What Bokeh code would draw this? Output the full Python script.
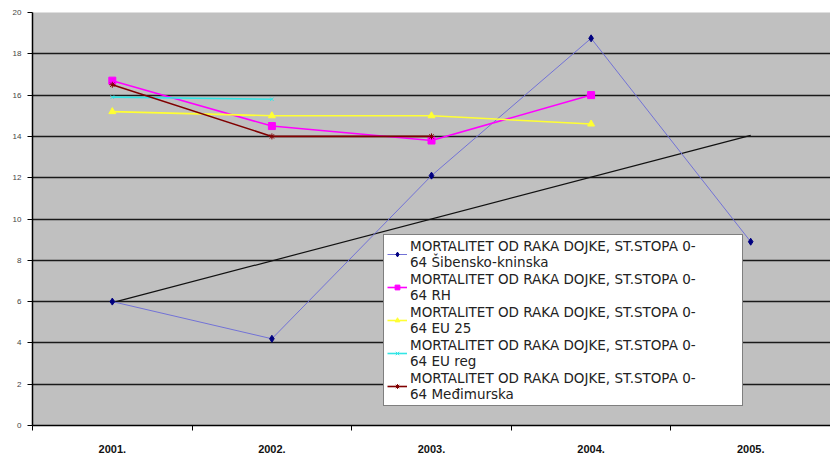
from bokeh.plotting import figure
from bokeh.models import Range1d, FixedTicker, Legend, LegendItem
from bokeh.embed import file_html
from bokeh.resources import INLINE

# ---- data ----
years = ["2001.", "2002.", "2003.", "2004.", "2005."]
sibenik = [6.0, 4.2, 12.1, 18.75, 8.9]
rh = [16.7, 14.5, 13.8, 16.0, None]
eu25 = [15.2, 15.0, 15.0, 14.6, None]
eureg = [15.9, 15.8, None, None, None]
medjimurje = [16.5, 14.0, 14.0, None, None]
trend_years = ["2001.", "2005."]
trend_vals = [5.95, 14.05]
y_ticks = [0, 2, 4, 6, 8, 10, 12, 14, 16, 18, 20]

label_head = "MORTALITET OD RAKA DOJKE, ST.STOPA 0-\n64 "
names = ["Šibensko-kninska", "RH", "EU 25", "EU reg", "Međimurska"]

pos = {y: i + 1 for i, y in enumerate(years)}

p = figure(width=830, height=465, output_backend="svg", toolbar_location=None,
           x_range=Range1d(0.5, len(years) + 0.5), y_range=Range1d(0, 20),
           min_border_left=32, min_border_right=0, min_border_top=12,
           min_border_bottom=40)
p.background_fill_color = "#c0c0c0"
p.border_fill_color = "white"
p.outline_line_color = None

p.xgrid.grid_line_color = None
p.ygrid.grid_line_color = "#1a1a1a"
p.ygrid.grid_line_width = 1.5
p.ygrid.ticker = FixedTicker(ticks=y_ticks)

xs_all = [pos[y] for y in years]
p.xaxis.ticker = FixedTicker(ticks=xs_all,
                             minor_ticks=[x - 0.5 for x in xs_all] + [xs_all[-1] + 0.5])
p.xaxis.major_label_overrides = {pos[y]: y for y in years}
p.xaxis.major_tick_out = 0
p.xaxis.major_tick_in = 0
p.xaxis.minor_tick_out = 5
p.xaxis.minor_tick_in = 0
p.xaxis.minor_tick_line_color = "black"
p.xaxis.major_label_standoff = 14
p.xaxis.major_label_text_font = "Liberation Sans"
p.xaxis.major_label_text_font_style = "bold"
p.xaxis.major_label_text_font_size = "11px"
p.xaxis.major_label_text_color = "#111111"
p.xaxis.axis_line_color = "black"
p.xaxis.axis_line_width = 1.5

p.yaxis.ticker = FixedTicker(ticks=y_ticks)
p.yaxis.major_tick_out = 5
p.yaxis.major_tick_in = 0
p.yaxis.minor_tick_line_color = None
p.yaxis.major_label_standoff = 6
p.yaxis.major_label_text_font = "Liberation Sans"
p.yaxis.major_label_text_font_size = "8px"
p.yaxis.major_label_text_color = "#444444"
p.yaxis.axis_line_color = "black"
p.yaxis.axis_line_width = 1.5


def pts(vals):
    xs, ys = [], []
    for y, v in zip(years, vals):
        if v is not None:
            xs.append(pos[y])
            ys.append(v)
    return xs, ys


# trendline
p.line([pos[y] for y in trend_years], trend_vals, line_color="#111111", line_width=1.2)

series = [
    (sibenik, "#7272d6", 1, "#000080", "diamond", 7),
    (rh, "#ff00ff", 1.6, "#ff00ff", "square", 7),
    (eu25, "#ffff33", 1.6, "#ffff33", "triangle", 7),
    (eureg, "#33e6e6", 1.6, "#33e6e6", "x", 5),
    (medjimurje, "#800000", 1.6, "#800000", "asterisk", 6),
]

items = []
for (vals, lc, lw, mc, mk, ms), nm in zip(series, names):
    xs, ys = pts(vals)
    r1 = p.line(xs, ys, line_color=lc, line_width=lw)
    r2 = p.scatter(xs, ys, marker=mk, size=ms, fill_color=mc, line_color=mc)
    items.append(LegendItem(label=label_head + nm, renderers=[r1, r2]))

legend = Legend(items=items, location=(351, 19))
legend.label_text_font = "DejaVu Sans"
legend.label_text_font_size = "13.5px"
legend.label_text_color = "#222222"
legend.label_width = 329
legend.glyph_width = 20
legend.glyph_height = 12
legend.label_standoff = 3
legend.spacing = 1
legend.padding = 3
legend.margin = 0
legend.border_line_color = "black"
legend.border_line_width = 1
legend.background_fill_color = "white"
legend.background_fill_alpha = 1
p.add_layout(legend)

open("out.html", "w").write(file_html(p, INLINE))
